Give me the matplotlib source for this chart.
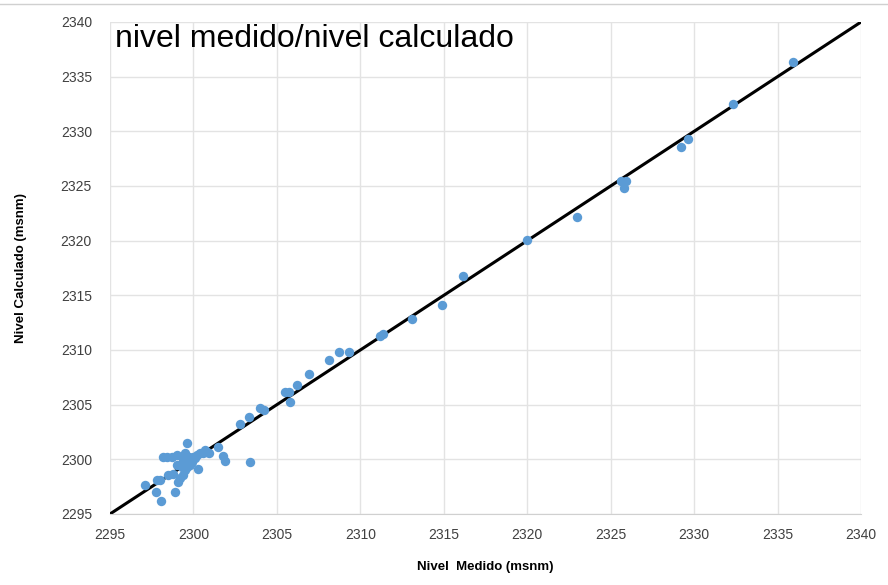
import matplotlib.pyplot as plt

# nivel medido (x) vs nivel calculado (y), msnm
medido = [2335.9, 2332.3, 2329.65, 2329.2, 2325.6, 2325.9, 2325.8, 2323.0,
          2320.0, 2316.15, 2314.9, 2313.1, 2311.2, 2311.35, 2309.3, 2308.7,
          2308.1, 2306.9, 2306.2, 2305.5, 2305.7, 2305.8, 2304.0, 2304.2,
          2303.3, 2302.8, 2303.4, 2301.5, 2301.75, 2301.9, 2300.95, 2300.7,
          2300.4, 2300.1, 2299.75, 2299.5, 2299.3, 2299.0, 2298.7, 2298.4,
          2298.2, 2299.6, 2300.3, 2297.1, 2297.8, 2298.0, 2297.75, 2298.05,
          2298.9, 2298.5, 2298.8, 2299.1, 2299.2, 2299.35, 2299.5, 2299.6,
          2299.8, 2299.9, 2299.4, 2299.6, 2300.0, 2300.2, 2300.6, 2300.8,
          2299.0, 2299.3]
calculado = [2336.35, 2332.5, 2329.3, 2328.6, 2325.5, 2325.5, 2324.8, 2322.2,
             2320.07, 2316.8, 2314.1, 2312.8, 2311.3, 2311.5, 2309.8, 2309.8,
             2309.1, 2307.8, 2306.8, 2306.2, 2306.2, 2305.2, 2304.7, 2304.5,
             2303.9, 2303.2, 2299.8, 2301.1, 2300.3, 2299.85, 2300.6, 2300.85,
             2300.55, 2300.1, 2300.2, 2300.55, 2300.2, 2300.4, 2300.2, 2300.2,
             2300.2, 2301.5, 2299.1, 2297.65, 2298.1, 2298.1, 2297.0, 2296.2,
             2297.0, 2298.55, 2298.7, 2297.95, 2298.25, 2298.55, 2299.0, 2299.3,
             2299.5, 2299.8, 2299.8, 2299.95, 2300.25, 2300.4, 2300.55, 2300.7,
             2299.5, 2299.3]
recta = [2295, 2340]

plt.rcParams['font.family'] = ['Liberation Sans', 'DejaVu Sans']

fig = plt.figure(figsize=(8.88, 5.85), dpi=100)
ax = fig.add_axes([0.1239, 0.1214, 0.8457, 0.8410])

ax.plot(recta, recta, color='black', linewidth=2.2, zorder=2)
ax.scatter(medido, calculado, s=46, color='#5B9BD5', zorder=3, linewidths=0)

ax.set_xlim(2295, 2340)
ax.set_ylim(2295, 2340)
ticks = list(range(2295, 2341, 5))
ax.set_xticks(ticks)
ax.set_yticks(ticks)
ax.tick_params(labelsize=10, length=0, colors='#404040')
ax.tick_params(axis='x', pad=10)
ax.tick_params(axis='y', pad=13)
ax.grid(color='#E3E3E3', linewidth=1)
ax.set_axisbelow(True)
for side in ['top', 'right', 'left']:
    ax.spines[side].set_visible(False)
ax.spines['bottom'].set_color('#D0D0D0')

ax.set_xlabel('Nivel  Medido (msnm)', fontsize=9.5, fontweight='bold', labelpad=14)
ax.set_ylabel('Nivel Calculado (msnm)', fontsize=9.5, fontweight='bold', labelpad=24)

ax.text(0.007, 0.95, 'nivel medido/nivel calculado', transform=ax.transAxes,
        fontsize=23, va='baseline', ha='left', color='black')

fig.add_artist(plt.Line2D([0, 1], [0.993, 0.993], color='#D0D0D0', linewidth=1))

fig.savefig('out.png', dpi=100)
